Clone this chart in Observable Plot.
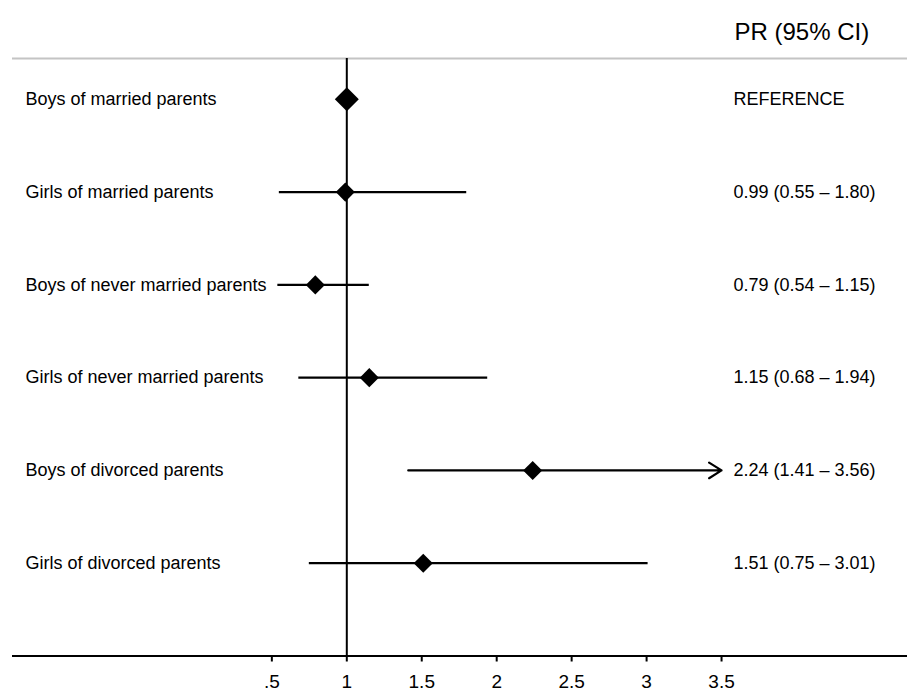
<!DOCTYPE html>
<html>
<head>
<meta charset="utf-8">
<script src="https://cdn.jsdelivr.net/npm/d3@7"></script>
<script src="https://cdn.jsdelivr.net/npm/@observablehq/plot@0.6"></script>
<style>
  html, body { margin: 0; padding: 0; background: #fff; }
  #chart svg { display: block; }
</style>
</head>
<body>
<div id="chart"></div>
<script>
const groups = [
  "Boys of married parents",
  "Girls of married parents",
  "Boys of never married parents",
  "Girls of never married parents",
  "Boys of divorced parents",
  "Girls of divorced parents"
];
const pr = [1, 0.99, 0.79, 1.15, 2.24, 1.51];
const ciLow = [null, 0.55, 0.54, 0.68, 1.41, 0.75];
const ciHigh = [null, 1.80, 1.15, 1.94, 3.56, 3.01];
const ciText = [
  "REFERENCE",
  "0.99 (0.55 \u2013 1.80)",
  "0.79 (0.54 \u2013 1.15)",
  "1.15 (0.68 \u2013 1.94)",
  "2.24 (1.41 \u2013 3.56)",
  "1.51 (0.75 \u2013 3.01)"
];
const headerText = "PR (95% CI)";
const xTicks = [0.5, 1, 1.5, 2, 2.5, 3, 3.5];
const xTickLabels = [".5", "1", "1.5", "2", "2.5", "3", "3.5"];
const axisMax = 3.5;
const nullLine = 1;

const rows = groups.map((g, i) => ({
  i, group: g, pr: pr[i], lo: ciLow[i], hi: ciHigh[i], txt: ciText[i],
  isRef: ciLow[i] == null
}));
const refRows = rows.filter(d => d.isRef);
const estRows = rows.filter(d => !d.isRef);
const ciRows = estRows.filter(d => d.hi <= axisMax);
const arrowRows = estRows.filter(d => d.hi > axisMax);

const W = 907, H = 698;
const mL = 12, mR = 0, mT = 58, mB = 42.5;
// x scale: 1 unit = 149.9px, 0 at 196.4px
const pxPerUnit = 149.9, zeroPx = 196.4;
const xDomain = [(mL - zeroPx) / pxPerUnit, (W - mR - zeroPx) / pxPerUnit];
const yTop = -0.44, yBottom = groups.length;

const font = "'Liberation Sans', Arial, Helvetica, sans-serif";

const chart = Plot.plot({
  width: W,
  height: H,
  marginLeft: mL,
  marginRight: mR,
  marginTop: mT,
  marginBottom: mB,
  style: { fontFamily: font, fontSize: "18px", color: "#000", background: "#fff", overflow: "visible" },
  x: { domain: xDomain, axis: null },
  y: { domain: [yTop, yBottom], reverse: true, axis: null },
  marks: [
    Plot.ruleY([yTop], { stroke: "#c4c4c4", strokeWidth: 2 }),
    Plot.ruleY([yBottom], { stroke: "#000", strokeWidth: 2 }),
    Plot.axisX({
      ticks: xTicks,
      tickFormat: (d) => xTickLabels[xTicks.indexOf(d)],
      tickSize: 6,
      tickPadding: 12,
      strokeWidth: 2,
      fontSize: 19,
      label: null,
      anchor: "bottom"
    }),
    Plot.ruleX([nullLine], { stroke: "#000", strokeWidth: 2 }),
    Plot.ruleY(ciRows, { y: "i", x1: "lo", x2: "hi", stroke: "#000", strokeWidth: 2.2 }),
    Plot.arrow(arrowRows, {
      x1: "lo", x2: () => axisMax, y1: "i", y2: "i",
      stroke: "#000", strokeWidth: 2.2, headLength: 10, headAngle: 64
    }),
    Plot.dot(refRows, {
      x: "pr", y: "i", symbol: "diamond2", fill: "#000", stroke: null, r: 10.8
    }),
    Plot.dot(estRows, {
      x: "pr", y: "i", symbol: "diamond2", fill: "#000", stroke: null, r: 8.6
    }),
    Plot.text(rows, {
      y: "i", text: "group", frameAnchor: "left", dx: 13,
      textAnchor: "start", lineAnchor: "middle", fill: "#000", fontSize: 18
    }),
    Plot.text(rows, {
      y: "i", text: "txt", frameAnchor: "right", dx: -174,
      textAnchor: "start", lineAnchor: "middle", fill: "#000", fontSize: 18
    }),
    Plot.text([headerText], {
      text: (d) => d, frameAnchor: "top-right", dx: -173, dy: -26,
      textAnchor: "start", lineAnchor: "middle", fill: "#000", fontSize: 24
    })
  ]
});
document.getElementById("chart").appendChild(chart);
</script>
</body>
</html>
